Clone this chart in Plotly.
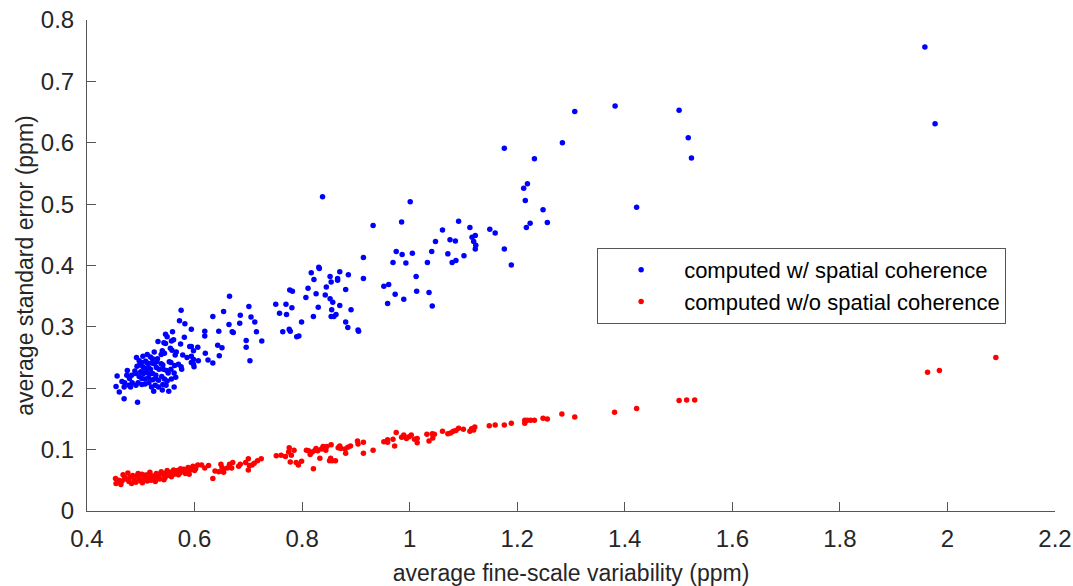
import plotly.graph_objects as go

# computed with spatial coherence (blue)
blue_x = [1.958, 1.977, 1.382, 1.307, 1.501, 1.518, 1.524, 1.422, 1.284, 1.232, 1.176, 1.219, 1.212, 1.215,
          1.248, 1.256, 1.224, 1.217, 1.149, 1.159, 1.176, 1.189,
          0.838, 1.001, 0.932, 0.985, 1.091, 1.061, 1.112, 1.122, 1.116, 1.119, 1.123, 1.122, 1.048, 1.075,
          1.085, 1.041, 1.071, 1.101, 1.079, 1.086, 0.975, 0.986, 1.005, 0.969, 0.993, 1.033, 1.012, 0.952,
          0.961, 1.013, 1.036, 0.973, 0.989, 0.959, 1.042, 0.914, 0.914, 0.831, 0.832, 0.817, 0.870, 0.886,
          0.822, 0.852, 0.854, 0.866, 0.866, 0.811, 0.845, 0.881, 0.807, 0.826, 0.843, 0.852, 0.857, 0.870,
          0.830, 0.891, 0.855, 0.821, 0.854, 0.859, 0.863, 0.881, 0.885, 0.904, 0.905, 0.799, 0.794,
          0.665, 0.575, 0.572, 0.582, 0.594, 0.634, 0.654, 0.685, 0.701, 0.705, 0.712, 0.684, 0.664, 0.670,
          0.672, 0.715, 0.725, 0.645, 0.619, 0.619, 0.696, 0.696, 0.703, 0.643, 0.651, 0.646, 0.620, 0.625,
          0.634, 0.751, 0.770, 0.777, 0.782, 0.758, 0.771, 0.781, 0.764, 0.776, 0.778, 0.790,
          0.559, 0.546, 0.549, 0.581, 0.557, 0.561, 0.543, 0.546, 0.532, 0.574, 0.591, 0.594, 0.606, 0.598,
          0.555, 0.558, 0.540, 0.525, 0.538, 0.544, 0.566, 0.564, 0.578, 0.586, 0.594, 0.598, 0.607, 0.594,
          0.598, 0.599, 0.512, 0.504, 0.518, 0.522, 0.531, 0.492, 0.497, 0.501, 0.509, 0.512, 0.520, 0.525,
          0.530, 0.538, 0.541, 0.553, 0.556, 0.563, 0.570, 0.575, 0.576, 0.493, 0.498, 0.504, 0.507, 0.514,
          0.518, 0.529, 0.534, 0.542, 0.548, 0.551, 0.556, 0.562, 0.489, 0.491, 0.500, 0.505, 0.511, 0.516,
          0.522, 0.528, 0.475, 0.474, 0.483, 0.479, 0.497, 0.502, 0.508, 0.514, 0.522, 0.528, 0.533, 0.539,
          0.544, 0.549, 0.557, 0.565, 0.456, 0.454, 0.465, 0.470, 0.469, 0.478, 0.484, 0.481, 0.491, 0.495,
          0.502, 0.508, 0.515, 0.520, 0.527, 0.533, 0.541, 0.547, 0.460, 0.469, 0.494, 0.524, 0.540, 0.552,
          0.562]
blue_y = [0.756, 0.631, 0.660, 0.651, 0.653, 0.608, 0.575, 0.495, 0.600, 0.574, 0.591, 0.533, 0.526, 0.506,
          0.491, 0.470, 0.469, 0.462, 0.459, 0.453, 0.427, 0.401,
          0.512, 0.504, 0.465, 0.471, 0.472, 0.458, 0.462, 0.449, 0.446, 0.439, 0.433, 0.427, 0.439, 0.442,
          0.440, 0.423, 0.419, 0.416, 0.405, 0.408, 0.423, 0.418, 0.420, 0.405, 0.404, 0.405, 0.382, 0.366,
          0.369, 0.358, 0.356, 0.353, 0.345, 0.338, 0.334, 0.413, 0.379, 0.397, 0.395, 0.388, 0.390, 0.385,
          0.377, 0.382, 0.373, 0.379, 0.376, 0.363, 0.365, 0.361, 0.348, 0.354, 0.352, 0.346, 0.340, 0.335,
          0.332, 0.328, 0.328, 0.317, 0.317, 0.317, 0.320, 0.308, 0.299, 0.295, 0.293, 0.308, 0.285,
          0.350, 0.327, 0.310, 0.305, 0.296, 0.317, 0.325, 0.319, 0.333, 0.316, 0.308, 0.306, 0.304, 0.292,
          0.291, 0.292, 0.277, 0.293, 0.293, 0.285, 0.278, 0.267, 0.245, 0.270, 0.266, 0.253, 0.257, 0.246,
          0.241, 0.337, 0.337, 0.360, 0.358, 0.322, 0.320, 0.331, 0.292, 0.296, 0.293, 0.284,
          0.292, 0.288, 0.284, 0.283, 0.277, 0.279, 0.274, 0.273, 0.276, 0.272, 0.268, 0.268, 0.267, 0.261,
          0.265, 0.262, 0.261, 0.259, 0.255, 0.257, 0.259, 0.254, 0.254, 0.250, 0.252, 0.247, 0.245, 0.242,
          0.239, 0.235, 0.255, 0.252, 0.251, 0.248, 0.248, 0.250, 0.245, 0.242, 0.244, 0.241, 0.241, 0.240,
          0.243, 0.240, 0.238, 0.243, 0.242, 0.237, 0.239, 0.235, 0.231, 0.236, 0.238, 0.235, 0.232, 0.234,
          0.231, 0.234, 0.231, 0.231, 0.229, 0.225, 0.231, 0.225, 0.228, 0.224, 0.227, 0.224, 0.226, 0.223,
          0.224, 0.221, 0.229, 0.221, 0.221, 0.216, 0.219, 0.216, 0.215, 0.217, 0.214, 0.216, 0.213, 0.219,
          0.215, 0.212, 0.215, 0.218, 0.220, 0.203, 0.211, 0.209, 0.202, 0.205, 0.209, 0.202, 0.205, 0.209,
          0.206, 0.207, 0.209, 0.202, 0.205, 0.202, 0.206, 0.205, 0.194, 0.183, 0.177, 0.195, 0.197, 0.195,
          0.202]

# computed without spatial coherence (red)
red_x = [2.090, 1.963, 1.985, 1.501, 1.515, 1.530, 1.381, 1.422, 1.283, 1.307, 1.248, 1.256, 1.214, 1.219,
         1.225, 1.232, 1.214, 1.148, 1.159, 1.176, 1.189, 1.121, 1.115, 1.119, 1.112, 1.100, 1.091, 1.086,
         1.081, 1.076, 1.071, 1.061, 1.042, 1.046, 1.032, 1.043, 1.036, 1.014, 1.014, 1.009, 1.003, 0.999,
         0.989, 0.985, 0.990, 0.994, 0.975, 0.972, 0.969, 0.959, 0.952, 0.959, 0.932, 0.914, 0.914, 0.903,
         0.904, 0.890, 0.885, 0.880, 0.881, 0.870, 0.867, 0.872, 0.854, 0.844, 0.839, 0.836, 0.829, 0.824,
         0.819, 0.815, 0.808, 0.812, 0.833, 0.821, 0.853, 0.856, 0.851, 0.862, 0.799, 0.846, 0.826,
         0.776, 0.785, 0.775, 0.780, 0.752, 0.761, 0.769, 0.778, 0.789, 0.793, 0.724, 0.717, 0.711, 0.707,
         0.700, 0.695, 0.702, 0.700, 0.685, 0.682, 0.671, 0.665, 0.669, 0.661, 0.649, 0.651, 0.654, 0.654,
         0.645, 0.638, 0.634, 0.626, 0.619, 0.613,
         0.453, 0.454, 0.467, 0.472, 0.465, 0.476, 0.480, 0.478, 0.483, 0.493, 0.497, 0.500, 0.502, 0.506,
         0.509, 0.509, 0.514, 0.517, 0.522, 0.525, 0.529, 0.533, 0.538, 0.541, 0.545, 0.549, 0.552, 0.557,
         0.561, 0.566, 0.570, 0.574, 0.578, 0.583, 0.588, 0.592, 0.597, 0.602, 0.606, 0.488, 0.491, 0.503,
         0.512, 0.519, 0.527, 0.535, 0.543, 0.550, 0.555, 0.562, 0.568, 0.573, 0.580, 0.586, 0.590, 0.595,
         0.600, 0.470, 0.485, 0.495, 0.515, 0.531, 0.547, 0.459, 0.463]
red_y = [0.250, 0.226, 0.229, 0.180, 0.181, 0.181, 0.161, 0.167, 0.158, 0.153, 0.151, 0.150, 0.148, 0.148,
         0.148, 0.148, 0.143, 0.139, 0.140, 0.140, 0.143, 0.137, 0.134, 0.132, 0.130, 0.133, 0.135, 0.131,
         0.130, 0.127, 0.126, 0.130, 0.126, 0.125, 0.125, 0.119, 0.114, 0.118, 0.111, 0.117, 0.124, 0.121,
         0.124, 0.120, 0.121, 0.118, 0.128, 0.106, 0.117, 0.116, 0.113, 0.112, 0.099, 0.094, 0.112, 0.114,
         0.109, 0.106, 0.104, 0.101, 0.094, 0.106, 0.103, 0.102, 0.108, 0.099, 0.105, 0.101, 0.098, 0.099,
         0.096, 0.092, 0.099, 0.098, 0.086, 0.069, 0.086, 0.082, 0.082, 0.082, 0.081, 0.105, 0.102,
         0.103, 0.099, 0.096, 0.091, 0.090, 0.091, 0.089, 0.080, 0.079, 0.075, 0.085, 0.082, 0.078, 0.075,
         0.085, 0.079, 0.074, 0.067, 0.076, 0.073, 0.079, 0.076, 0.070, 0.070, 0.076, 0.071, 0.063, 0.068,
         0.064, 0.065, 0.053, 0.074, 0.070, 0.075,
         0.053, 0.045, 0.059, 0.052, 0.049, 0.062, 0.055, 0.048, 0.045, 0.057, 0.053, 0.049, 0.060, 0.056,
         0.052, 0.0585, 0.054, 0.063, 0.057, 0.052, 0.061, 0.056, 0.064, 0.060, 0.054, 0.066, 0.061, 0.056,
         0.067, 0.063, 0.059, 0.069, 0.065, 0.061, 0.071, 0.067, 0.073, 0.069, 0.075, 0.050, 0.047, 0.046,
         0.049, 0.050, 0.048, 0.052, 0.051, 0.058, 0.063, 0.060, 0.066, 0.062, 0.068, 0.064, 0.060, 0.070,
         0.066, 0.055, 0.058, 0.061, 0.060, 0.058, 0.062, 0.050, 0.043]

x_ticks = [0.4, 0.6, 0.8, 1.0, 1.2, 1.4, 1.6, 1.8, 2.0, 2.2]
x_labels = ["0.4", "0.6", "0.8", "1", "1.2", "1.4", "1.6", "1.8", "2", "2.2"]
y_ticks = [0, 0.1, 0.2, 0.3, 0.4, 0.5, 0.6, 0.7, 0.8]
y_labels = ["0", "0.1", "0.2", "0.3", "0.4", "0.5", "0.6", "0.7", "0.8"]

fig = go.Figure()
fig.add_trace(go.Scatter(x=blue_x, y=blue_y, mode="markers", name="computed w/ spatial coherence",
                         marker=dict(color="#0000ff", size=5.5)))
fig.add_trace(go.Scatter(x=red_x, y=red_y, mode="markers", name="computed w/o spatial coherence",
                         marker=dict(color="#ff0000", size=5.5)))

axis_col = "#555555"
txt_col = "#262626"
fig.update_xaxes(range=[0.4, 2.2], tickvals=x_ticks, ticktext=x_labels, showgrid=False, zeroline=False,
                 showline=True, linecolor=axis_col, linewidth=1, ticks="inside", ticklen=9, tickcolor=axis_col,
                 tickfont=dict(size=24, color=txt_col), ticklabelstandoff=6, ticklabeloverflow="allow",
                 automargin=False,
                 title=dict(text="average fine-scale variability (ppm)", font=dict(size=23, color=txt_col),
                            standoff=14))
fig.update_yaxes(range=[0, 0.8], tickvals=y_ticks, ticktext=y_labels, showgrid=False, zeroline=False,
                 showline=True, linecolor=axis_col, linewidth=1, ticks="inside", ticklen=9, tickcolor=axis_col,
                 tickfont=dict(size=24, color=txt_col), ticklabelstandoff=7, ticklabeloverflow="allow",
                 automargin=False,
                 title=dict(text="average standard error (ppm)", font=dict(size=23, color=txt_col),
                            standoff=0))
fig.update_layout(
    width=1073, height=586,
    margin=dict(l=87, r=18, t=20, b=75),
    paper_bgcolor="white", plot_bgcolor="white",
    font=dict(family="Liberation Sans, Arial, sans-serif"),
    legend=dict(x=0.527, y=0.5356, xanchor="left", yanchor="top", bgcolor="white",
                bordercolor=axis_col, borderwidth=1, itemwidth=76,
                font=dict(size=22, color="#000000")),
)

# drop the page's default body margin so the figure sits at the window's corner
fig.write_html("out.html", config={"displayModeBar": False},
               post_script="document.body.style.margin = '0';")
